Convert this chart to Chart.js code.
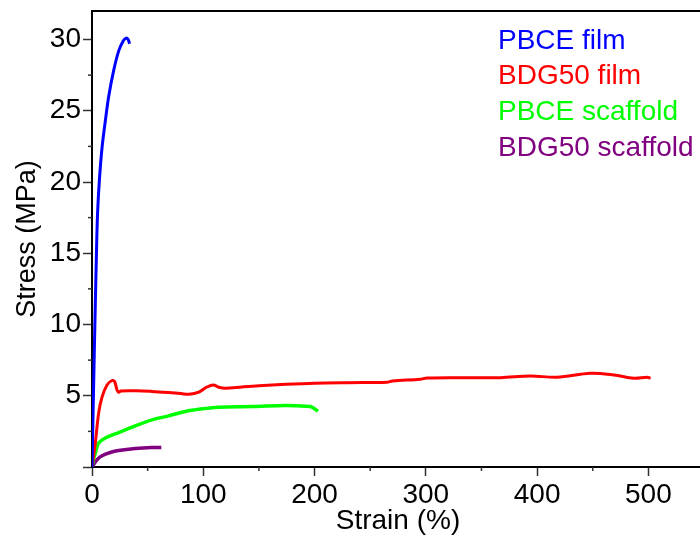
<!DOCTYPE html>
<html>
<head>
<meta charset="utf-8">
<script src="https://cdn.jsdelivr.net/npm/chart.js@4"></script>
<style>
html, body { margin: 0; padding: 0; overflow: hidden; background: #fff; }
#wrap { width: 700px; height: 538px; overflow: hidden; }
</style>
</head>
<body>
<div id="wrap"><canvas id="chart" width="712" height="538"></canvas></div>
<script>
const SERIES = ["PBCE film", "BDG50 film", "PBCE scaffold", "BDG50 scaffold"];
const COLORS = ["#0000ff", "#ff0000", "#00ff00", "#800080"];

// ---------- DATOS ----------
const pbceFilmStrain = [0, 1, 2, 3, 4, 5, 6.6, 9.0, 12.0, 15.0, 19.4, 24.0, 28.0, 30.6, 32.5, 33.8];
const pbceFilmStress = [0, 3.9, 7.8, 11.5, 15.0, 17.8, 20.1, 22.4, 24.3, 26.0, 27.8, 29.2, 29.9, 30.1, 30.0, 29.7];

const bdgFilmStrain = [0, 3, 6, 9, 13.5, 18, 20.3, 22.5, 24, 26, 40, 54, 69, 80, 87, 96, 103, 109, 114, 120, 135, 150, 174, 200, 230, 265, 270, 295, 301, 334, 367, 394, 418, 448, 469, 487, 499, 502];
const bdgFilmStress = [0, 1.7, 3.8, 4.9, 5.76, 6.07, 6.0, 5.4, 5.25, 5.34, 5.35, 5.3, 5.22, 5.15, 5.1, 5.25, 5.6, 5.76, 5.6, 5.53, 5.62, 5.7, 5.8, 5.88, 5.92, 5.95, 6.04, 6.16, 6.25, 6.27, 6.27, 6.39, 6.3, 6.58, 6.46, 6.23, 6.3, 6.23];

const pbceScafStrain = [0, 1.5, 3, 5.9, 12, 24, 38.9, 53.9, 68.9, 83.9, 98.9, 113.8, 143.8, 173.7, 184, 196, 200.7, 203];
const pbceScafStress = [0, 0.6, 0.98, 1.68, 2.03, 2.42, 2.89, 3.31, 3.59, 3.9, 4.08, 4.2, 4.24, 4.31, 4.29, 4.24, 4.06, 3.9];

const bdgScafStrain = [0, 4.5, 9, 16.4, 24, 38.9, 53.9, 62.3];
const bdgScafStress = [0, 0.51, 0.79, 1.02, 1.16, 1.3, 1.37, 1.37];

const X_TICKS = [0, 100, 200, 300, 400, 500];
const Y_TICKS = [5, 10, 15, 20, 25, 30];
const X_MINOR = [50, 150, 250, 350, 450, 550];
const Y_MINOR = [2.5, 7.5, 12.5, 17.5, 22.5, 27.5];

const STRAINS = [pbceFilmStrain, bdgFilmStrain, pbceScafStrain, bdgScafStrain];
const STRESSES = [pbceFilmStress, bdgFilmStress, pbceScafStress, bdgScafStress];
const WIDTHS = [3, 3, 3.5, 3.5];

const FONT = "'Liberation Sans', Arial, sans-serif";

function toPoints(xs, ys) {
  return xs.map((x, i) => ({ x: x, y: ys[i] }));
}

// ---------- PLUGIN: marco, ticks menores, leyenda ----------
const decor = {
  id: "decor",
  afterDraw(chart) {
    const ctx = chart.ctx;
    const a = chart.chartArea;
    const xs = chart.scales.x, ys = chart.scales.y;
    ctx.save();
    ctx.strokeStyle = "#000";
    ctx.lineWidth = 2;
    ctx.beginPath();
    ctx.moveTo(a.left, a.top);
    ctx.lineTo(a.right, a.top);
    ctx.lineTo(a.right, a.bottom);
    ctx.stroke();

    ctx.strokeStyle = "#333";
    ctx.lineWidth = 1.5;
    X_MINOR.forEach(v => {
      const px = xs.getPixelForValue(v);
      ctx.beginPath();
      ctx.moveTo(px, a.bottom);
      ctx.lineTo(px, a.bottom + 4);
      ctx.stroke();
    });
    Y_MINOR.forEach(v => {
      const py = ys.getPixelForValue(v);
      ctx.beginPath();
      ctx.moveTo(a.left, py);
      ctx.lineTo(a.left - 4, py);
      ctx.stroke();
    });

    ctx.font = "28px " + FONT;
    ctx.textAlign = "left";
    ctx.textBaseline = "alphabetic";
    chart.data.datasets.forEach((ds, i) => {
      ctx.fillStyle = ds.borderColor;
      ctx.fillText(ds.label, a.left + 406, a.top + 37.5 + i * 35.7);
    });
    ctx.restore();
  }
};

new Chart(document.getElementById("chart"), {
  type: "scatter",
  data: {
    datasets: SERIES.map((name, i) => ({
      label: name,
      data: toPoints(STRAINS[i], STRESSES[i]),
      showLine: true,
      borderColor: COLORS[i],
      backgroundColor: COLORS[i],
      borderWidth: WIDTHS[i],
      pointRadius: 0,
      tension: 0.35,
      fill: false
    }))
  },
  options: {
    responsive: false,
    animation: false,
    layout: { padding: { top: 11, right: 8, left: 0, bottom: 0 } },
    plugins: { legend: { display: false }, tooltip: { enabled: false } },
    scales: {
      x: {
        type: "linear",
        min: 0,
        max: 550,
        afterFit: s => { s.height = 71; s.paddingLeft = 0; s.paddingRight = 0; },
        border: { color: "#000", width: 2 },
        grid: { drawOnChartArea: false, tickLength: 9, tickColor: "#333", tickWidth: 1.5 },
        ticks: {
          stepSize: 100,
          includeBounds: false,
          autoSkip: false,
          maxRotation: 0,
          padding: 2,
          color: "#000",
          font: { family: FONT, size: 28 },
          callback: v => X_TICKS.includes(v) ? String(v) : ""
        },
        title: {
          display: true,
          text: "Strain (%)",
          color: "#000",
          font: { family: FONT, size: 28 },
          padding: { top: 0, bottom: 0 }
        }
      },
      y: {
        type: "linear",
        min: 0,
        max: 32,
        afterFit: s => { s.width = 92; s.paddingTop = 0; s.paddingBottom = 0; },
        border: { color: "#000", width: 2 },
        grid: { drawOnChartArea: false, tickLength: 9, tickColor: "#333", tickWidth: 1.5 },
        ticks: {
          stepSize: 5,
          includeBounds: false,
          autoSkip: false,
          padding: 2,
          color: "#000",
          font: { family: FONT, size: 28 },
          callback: v => Y_TICKS.includes(v) ? String(v) : ""
        },
        title: {
          display: true,
          text: "Stress (MPa)",
          color: "#000",
          font: { family: FONT, size: 27 },
          padding: { top: 11, bottom: 0 }
        }
      }
    }
  },
  plugins: [decor]
});
</script>
</body>
</html>
